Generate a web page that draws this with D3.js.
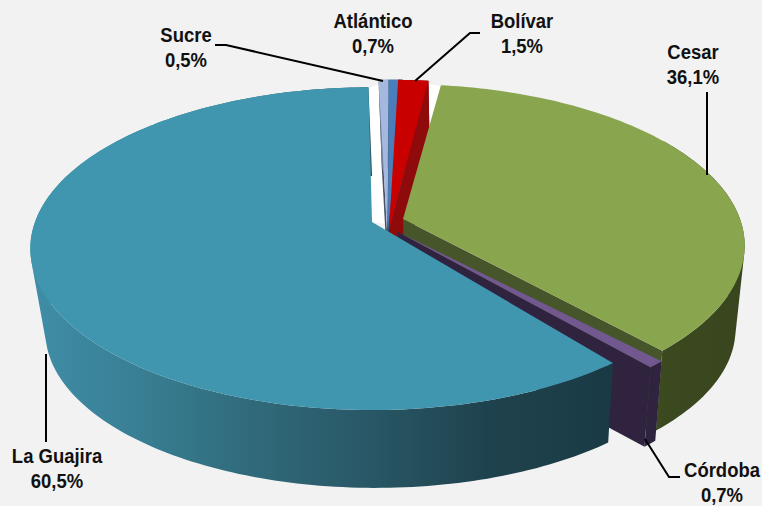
<!DOCTYPE html>
<html><head><meta charset="utf-8">
<script src="https://cdn.jsdelivr.net/npm/d3@7"></script>
<style>html,body{margin:0;padding:0;background:#f2f2f2}svg{display:block}
text{font-family:"Liberation Sans",Arial,sans-serif;font-weight:bold;font-size:21px;fill:#111;text-anchor:middle}</style>
</head><body><svg id="c" width="762" height="506"></svg>
<script>
const categories = ["La Guajira","Sucre","Atlántico","Bolívar","Cesar","Córdoba"];
const values = [60.5,0.5,0.7,1.5,36.1,0.7];
const valueLabels = ["60,5%","0,5%","0,7%","1,5%","36,1%","0,7%"];
const topColors = ["#4096ae","#a5b8de","#4a7ebb","#c80000","#89a54e","#71588f"];
const cutColors = ["#1a3c46","#4a5468","#2c4a70","#8f0a0a","#46552a","#2f2340"];
const wallColors = ["url(#gT)","#6f7d98","#2c4a70","#8f0a0a","url(#gC)","#2f2340"];
const apexX = [372,387,388,389,403,398];
const apexY = [222,230,230,230,219,232];
const radial = [1,1.115,1.115,1.115,1,1];
const nudge = [0,-0.8,-1,-2,-1.5,-2.5];
const labelX = [57,186,373,522,693,722];
const labelY = [457,36,22,22,53,471];
const leaders = [[[46,354],[46,442]],[[215,45],[226,45],[383,81]],[],[[480,33],[470,33],[415,81]],[[707,92],[707,175]],[[645,439],[669,477],[680,477]]];

const R=337,Q=157,P=0.165,VX=475,VY=2700,S=0.966;
const rad=d=>d*Math.PI/180;
const svg=d3.select("#c");
const defs=svg.append("defs");
function grad(id,x1,x2,stops){const g=defs.append("linearGradient").attr("id",id).attr("gradientUnits","userSpaceOnUse").attr("x1",x1).attr("x2",x2).attr("y1",0).attr("y2",0);
  stops.forEach(s=>g.append("stop").attr("offset",s[0]).attr("stop-color",s[1]));}
grad("gT",31,614,[[0,"#3f8ea7"],[0.2,"#387d92"],[0.38,"#306a7a"],[0.55,"#2a5a69"],[0.78,"#1f434e"],[1,"#193a44"]]);
grad("gC",640,744,[[0,"#3d4b20"],[1,"#38451e"]]);

const pie=d3.pie().sort(null).startAngle(rad(141.5)).endAngle(rad(141.5+360)).value(d=>d);
const arcs=pie(values);
const line=d3.line().curve(d3.curveLinearClosed);
function pt(i,th){const u=Math.sin(th),v=Math.cos(th),w=1+P*v,k=radial[i];
  return [apexX[i]+k*R*u/w, apexY[i]-k*Q*v/w];}
const low=p=>[VX+S*(p[0]-VX),VY+S*(p[1]-VY)];
function arcPts(i,a0,a1){const n=Math.max(2,Math.ceil(Math.abs(a1-a0)/0.02));
  return d3.range(n+1).map(j=>pt(i,a0+(a1-a0)*j/n));}
const order=[1,2,3,4,5,0];

// pale gap between the separated slices
svg.append("path").attr("fill","#ffffff").attr("d",line([[372,222],...arcPts(0,rad(358.5),rad(360)),[380,84],[388,230],[404,219],[441,86],[428,84],[392,225]]));

order.forEach(i=>{
  const a=arcs[i],a0=a.startAngle+rad(nudge[i]),a1=a.endAngle+rad(nudge[i]);
  const g=svg.append("g");
  const apex=[apexX[i],apexY[i]];
  const pa0=pt(i,a0),pa1=pt(i,a1);
  if(i===1) g.append("path").attr("fill",cutColors[i]).attr("d",line([apex,pa0,low(pa0),low(apex)]));
  const w0=i===4?a1-rad(80):a0;
  const topArc=arcPts(i,w0,a1);
  const wall=d3.range(topArc.length-1).map(j=>{
    const q=[topArc[j],topArc[j+1],low(topArc[j+1]),low(topArc[j])];
    if(d3.polygonArea(q)<0) q.reverse();
    return line(q);
  }).join("");
  g.append("path").attr("fill",wallColors[i]).attr("d",wall);
  if(i!==0) g.append("path").attr("fill",cutColors[i]).attr("d",line([apex,pa1,low(pa1),low(apex)]));
  g.append("path").attr("fill",topColors[i]).attr("d",line([apex,...arcPts(i,a0,a1)]));
});

const ln=d3.line();
svg.append("g").selectAll("path").data(leaders.filter(l=>l.length)).join("path")
  .attr("d",d=>ln(d)).attr("fill","none").attr("stroke","#000").attr("stroke-width",2);

const t=svg.append("g").selectAll("g").data(categories).join("g")
  .attr("transform",(d,i)=>`translate(${labelX[i]},${labelY[i]+6}) scale(0.88,1)`);
t.append("text").text(d=>d);
t.append("text").attr("y",25.5).text((d,i)=>valueLabels[i]);
</script></body></html>
